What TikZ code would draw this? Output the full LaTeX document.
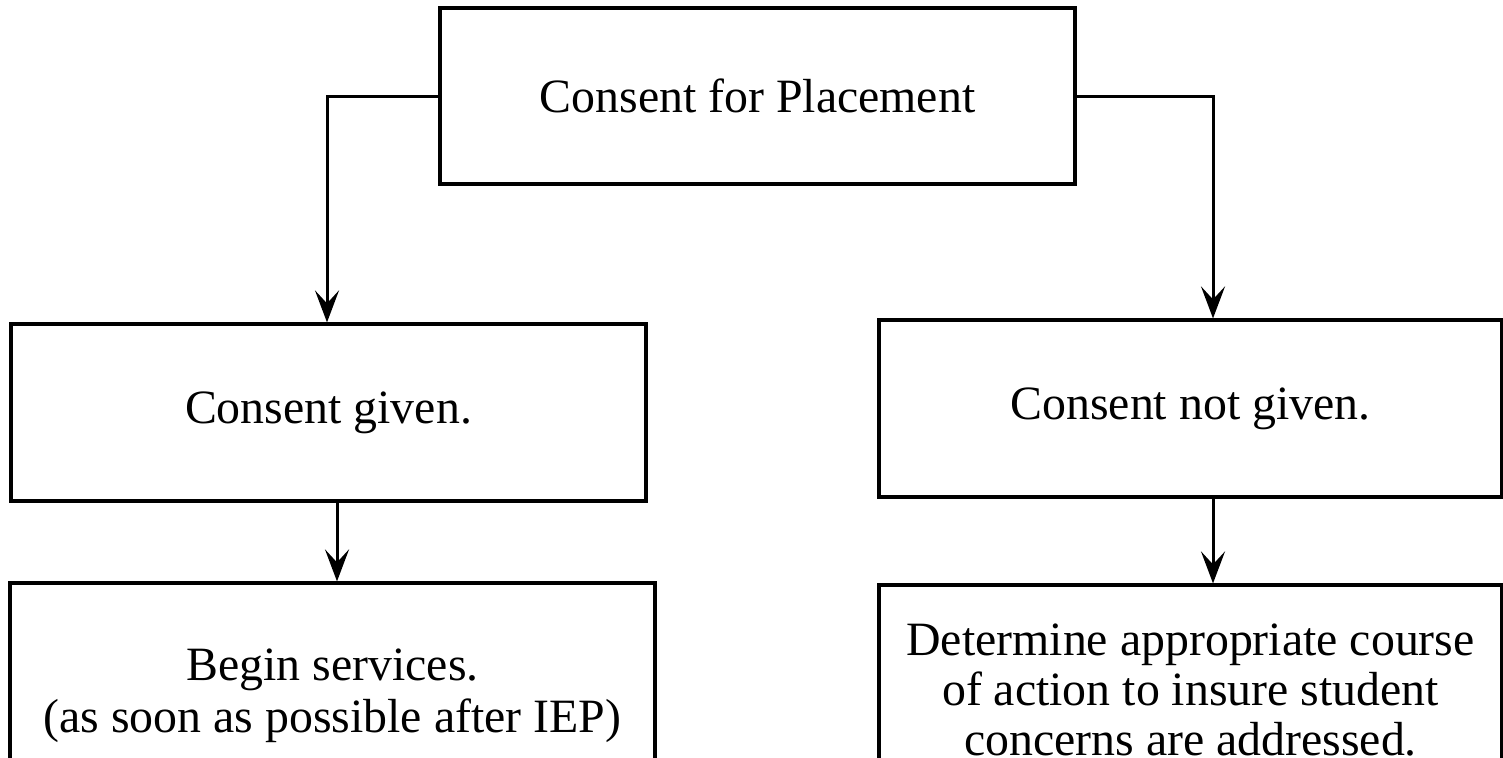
\documentclass[tikz,border=0pt]{standalone}
\usepackage{fontspec}
\setmainfont{Liberation Serif}
\usetikzlibrary{arrows.meta,calc}
\begin{document}
\begin{tikzpicture}[x=1bp,y=-1bp,
  box/.style={draw=black,line width=3.2bp,rectangle,inner sep=0pt,align=center,
    font=\fontsize{48}{52.5}\selectfont},
  flow/.style={draw=black,line width=3bp,
    -{Stealth[length=32bp,width=24bp,inset=13bp]}}]
  \useasboundingbox (0,0) rectangle (1503,757);
  \clip (0,0) rectangle (1503,757);

  % decision and its two outcomes
  \node[box,minimum width=635bp,minimum height=176bp] (top) at (757.5,96) {Consent for Placement};
  \node[box,minimum width=635bp,minimum height=177bp] (given) at (328.5,412.5) {Consent given.};
  \node[box,minimum width=623bp,minimum height=177bp] (notgiven) at (1190.5,408.5) {Consent not given.};

  % follow-up steps (boxes run past the lower edge)
  \node[box,minimum width=645bp,minimum height=226bp] (begin) at (332.5,696) {Begin services.\\(as soon as possible after IEP)};
  \node[box,font=\fontsize{48}{50}\selectfont,minimum width=623bp,minimum height=210bp] (decide) at (1190.5,690) {Determine appropriate course\\of action to insure student\\concerns are addressed.};

  % branch points on the outcome boxes
  \coordinate (lx) at (327,0);
  \coordinate (rx) at (1213,0);
  \coordinate (lx2) at (337,0);

  \draw[flow] (top.west) -| (lx |- given.north);
  \draw[flow] (top.east) -| (rx |- notgiven.north);
  \draw[flow] (lx2 |- given.south) -- (lx2 |- begin.north);
  \draw[flow] (rx |- notgiven.south) -- (rx |- decide.north);
\end{tikzpicture}
\end{document}
